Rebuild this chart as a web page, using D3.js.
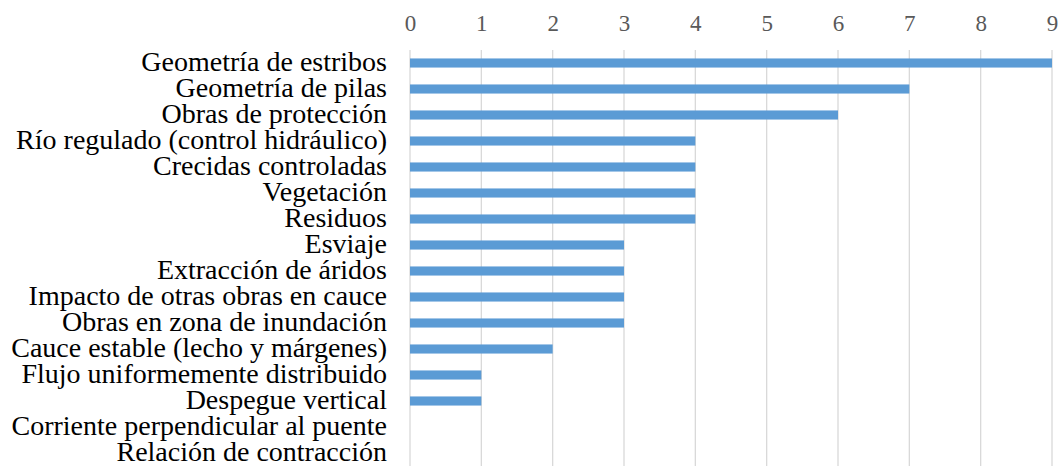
<!DOCTYPE html>
<html>
<head>
<meta charset="utf-8">
<script src="https://cdn.jsdelivr.net/npm/d3@7"></script>
<style>
  body { margin: 0; background: #fff; }
  svg { display: block; }
</style>
</head>
<body>
<svg id="chart" width="1060" height="466"></svg>
<script>
// categorías (de arriba a abajo)
const categories = [
  "Geometría de estribos",
  "Geometría de pilas",
  "Obras de protección",
  "Río regulado (control hidráulico)",
  "Crecidas controladas",
  "Vegetación",
  "Residuos",
  "Esviaje",
  "Extracción de áridos",
  "Impacto de otras obras en cauce",
  "Obras en zona de inundación",
  "Cauce estable (lecho y márgenes)",
  "Flujo uniformemente distribuido",
  "Despegue vertical",
  "Corriente perpendicular al puente",
  "Relación de contracción"
];

// valores
const values = [9, 7, 6, 4, 4, 4, 4, 3, 3, 3, 3, 2, 1, 1, 0, 0];

// marcas del eje
const ticks = [0, 1, 2, 3, 4, 5, 6, 7, 8, 9];

const FONT = '"Liberation Serif"';

const svg = d3.select("#chart");

// área del gráfico
const plotL = 410, plotR = 1052, plotT = 50, plotB = 466;

const x = d3.scaleLinear().domain([0, 9]).range([plotL, plotR]);
const y = d3.scaleBand().domain(categories).range([plotT, plotB]).paddingInner(0.65).paddingOuter(0.325);

// líneas de la cuadrícula
svg.append("g")
  .selectAll("line")
  .data(ticks)
  .enter()
  .append("line")
  .attr("x1", d => x(d))
  .attr("x2", d => x(d))
  .attr("y1", plotT)
  .attr("y2", plotB)
  .attr("stroke", "#d9d9d9")
  .attr("stroke-width", 1.3);

// eje superior
const axis = svg.append("g")
  .attr("transform", `translate(0,${plotT})`)
  .call(d3.axisTop(x).tickValues(ticks).tickSize(0).tickPadding(19));
axis.select(".domain").remove();
axis.selectAll("text")
  .style("font-family", FONT)
  .attr("font-size", "23px")
  .attr("fill", "#595959");

// barras
svg.append("g")
  .selectAll("rect")
  .data(values)
  .enter()
  .append("rect")
  .attr("x", x(0))
  .attr("y", (d, i) => y(categories[i]))
  .attr("width", d => x(d) - x(0))
  .attr("height", y.bandwidth())
  .attr("fill", "#5b9bd5");

// etiquetas de categoría
let offsetY = 1.5;    // 微調整
svg.append("g")
  .selectAll("text")
  .data(categories)
  .enter()
  .append("text")
  .text(d => d)
  .attr("x", 387)
  .attr("y", d => y(d) + y.bandwidth() / 2 + offsetY)
  .attr("dominant-baseline", "middle")
  .attr("text-anchor", "end")
  .style("font-family", FONT)
  .attr("font-size", "28px")
  .attr("fill", "#000");
</script>
</body>
</html>
